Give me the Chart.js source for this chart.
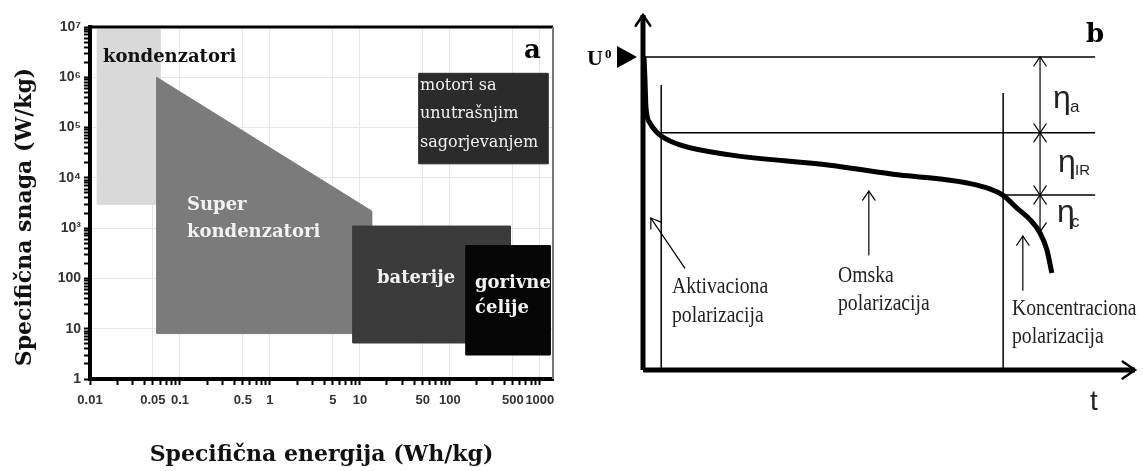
<!DOCTYPE html>
<html>
<head>
<meta charset="utf-8">
<script src="https://cdn.jsdelivr.net/npm/chart.js@4.4.1/dist/chart.umd.min.js"></script>
<style>
  html, body { margin: 0; padding: 0; background: #fff; }
  #wrap { position: relative; width: 1143px; height: 471px; overflow: hidden; }
  #boxA { position: absolute; left: 0; top: 0; width: 570px; height: 471px; }
  #boxB { position: absolute; left: 570px; top: 0; width: 573px; height: 471px; }
</style>
</head>
<body>
<div id="wrap">
  <div id="boxA"><canvas id="chartA"></canvas></div>
  <div id="boxB"><canvas id="chartB"></canvas></div>
</div>
<script>
// ---------- panel a: specific power vs specific energy (log-log) ----------
// region corners: energy in Wh/kg, power in W/kg
const kondEnergy = [0.012, 0.012, 0.06, 0.06];
const kondPower = [3000, 9e6, 9e6, 3000];
const superEnergy = [0.055, 0.055, 13.5, 13.5];
const superPower = [8, 1e6, 2200, 8];
const batEnergy = [8.3, 8.3, 470, 470];
const batPower = [5.2, 1100, 1100, 5.2];
const fuelEnergy = [150, 150, 1300, 1300];
const fuelPower = [3, 450, 450, 3];
const iceEnergy = [45, 45, 1230, 1230];
const icePower = [19000, 1.2e6, 1.2e6, 19000];

const energyTickLabels = ['0.01', '0.05', '0.1', '0.5', '1', '5', '10', '50', '100', '500', '1000'];
const powerTickValues = [1, 10, 100, 1e3, 1e4, 1e5, 1e6, 1e7];
const powerTickLabels = ['1', '10', '100', '10³', '10⁴', '10⁵', '10⁶', '10⁷'];

// ---------- panel b: cell voltage over time (arbitrary units) ----------
const curveTime = [0.2, 0.4, 0.6, 1.4, 2.6, 3.7, 7.5, 17.7, 38.0, 52.2, 60.4, 66.5, 70.5, 73.2, 76.0, 78.7, 80.7, 82.1, 83.1];
const curveVoltage = [88.2, 81.7, 74.1, 69.6, 67.3, 65.9, 63.4, 60.6, 57.7, 54.9, 53.8, 52.5, 51.0, 49.2, 45.6, 42.3, 38.6, 33.8, 27.3];
const levelVoltage = [88.2, 66.8, 49.3];     // U0, after activation, after ohmic
const levelStart = [0, 3.7, 73.2];
const levelEnd = 91.9;
const zoneTime = [3.7, 73.2];                 // activation / concentration borders
const zoneTop = [80.3, 78.0];
const dimTime = 80.7;
const dimBottom = 38.9;

function logTicks(lo, hi) {
  const t = [];
  for (let e = lo; e < hi; e++) {
    for (let m = 1; m < 10; m++) t.push(+(m * Math.pow(10, e)).toPrecision(3));
  }
  t.push(Math.pow(10, hi));
  return t;
}
const energyTicks = logTicks(-2, 3);
const powerTicks = logTicks(0, 7);

function energyLabel(v) {
  const l = energyTickLabels.find(s => Math.abs(Number(s) - v) / v < 1e-6);
  return l || '';
}
function powerLabel(v) {
  const i = powerTickValues.findIndex(p => Math.abs(p - v) / v < 1e-6);
  return i >= 0 ? powerTickLabels[i] : '';
}

function region(xs, ys, color, order) {
  const pts = xs.map((x, i) => ({ x: x, y: ys[i] }));
  pts.push(pts[0]);
  return {
    data: pts, fill: 'shape', backgroundColor: color, borderColor: color,
    borderWidth: 1, pointRadius: 0, tension: 0, order: order
  };
}

const panelAText = {
  id: 'panelAText',
  afterDraw(chart) {
    const { ctx, chartArea: a } = chart;
    ctx.save();
    // frame
    ctx.strokeStyle = '#000';
    ctx.lineWidth = 3;
    ctx.beginPath(); ctx.moveTo(a.left, a.top); ctx.lineTo(a.right, a.top); ctx.stroke();
    ctx.strokeStyle = '#777';
    ctx.lineWidth = 2;
    ctx.beginPath(); ctx.moveTo(a.right, a.top); ctx.lineTo(a.right, a.bottom); ctx.stroke();

    // y title
    ctx.fillStyle = '#111';
    ctx.font = 'bold 22px "DejaVu Serif"';
    ctx.textAlign = 'center';
    ctx.textBaseline = 'middle';
    ctx.translate(25, (a.top + a.bottom) / 2 + 14);
    ctx.rotate(-Math.PI / 2);
    ctx.fillText('Specifična snaga (W/kg)', 0, 0);
    ctx.restore();

    ctx.save();
    ctx.textAlign = 'left';
    ctx.textBaseline = 'alphabetic';
    ctx.font = 'bold 18px "DejaVu Serif"';
    ctx.fillStyle = '#111';
    ctx.fillText('kondenzatori', 103, 62);
    ctx.fillStyle = '#f2f2f2';
    ctx.fillText('Super', 187, 210);
    ctx.fillText('kondenzatori', 187, 237);
    ctx.fillText('baterije', 377, 283);
    ctx.fillText('gorivne', 475, 288);
    ctx.fillText('ćelije', 475, 313);
    ctx.font = '16px "DejaVu Serif"';
    ctx.fillText('motori sa', 420, 90);
    ctx.fillText('unutrašnjim', 420, 118);
    ctx.fillText('sagorjevanjem', 420, 147);
    ctx.fillStyle = '#000';
    ctx.font = 'bold 26px "DejaVu Serif"';
    ctx.fillText('a', 524, 58);
    ctx.restore();
  }
};

new Chart(document.getElementById('chartA'), {
  type: 'line',
  data: {
    datasets: [
      region(kondEnergy, kondPower, '#d9d9d9', 5),
      region(superEnergy, superPower, '#7b7b7b', 4),
      region(batEnergy, batPower, '#3b3b3b', 3),
      region(fuelEnergy, fuelPower, '#050505', 2),
      region(iceEnergy, icePower, '#2b2b2b', 1)
    ]
  },
  options: {
    responsive: true,
    maintainAspectRatio: false,
    animation: false,
    layout: { padding: { left: 10, right: 17, top: 27, bottom: 0 } },
    plugins: { legend: { display: false }, tooltip: { enabled: false } },
    scales: {
      x: {
        type: 'logarithmic', min: 0.01, max: 1400,
        afterBuildTicks: s => { s.ticks = energyTicks.map(v => ({ value: v })); },
        afterFit: s => { s.height = 92; },
        ticks: {
          autoSkip: false, maxRotation: 0, padding: 8, color: '#333',
          font: { family: '"Liberation Sans"', size: 13, weight: 'bold' },
          callback: v => energyLabel(v)
        },
        grid: {
          color: c => (c.tick && energyLabel(c.tick.value) ? '#e6e6e6' : 'rgba(0,0,0,0)'),
          tickColor: '#000', tickLength: 6, tickWidth: 2
        },
        border: { color: '#000', width: 4 },
        title: {
          display: true, text: 'Specifična energija (Wh/kg)', color: '#111',
          font: { family: '"DejaVu Serif"', size: 22, weight: 'bold' },
          padding: { top: 0, bottom: 3 }
        }
      },
      y: {
        type: 'logarithmic', min: 1, max: 1e7,
        afterBuildTicks: s => { s.ticks = powerTicks.map(v => ({ value: v })); },
        afterFit: s => { s.width = 80; },
        ticks: {
          autoSkip: false, padding: 3, color: '#333',
          font: { family: '"Liberation Sans"', size: 14, weight: 'bold' },
          callback: v => powerLabel(v)
        },
        grid: {
          color: c => (c.tick && powerLabel(c.tick.value) ? '#e6e6e6' : 'rgba(0,0,0,0)'),
          tickColor: '#000', tickLength: 6, tickWidth: 2
        },
        border: { color: '#000', width: 4 }
      }
    }
  },
  plugins: [panelAText]
});

// ---------- panel b ----------
function seg(points, width) {
  return {
    data: points, borderColor: '#000', borderWidth: width, pointRadius: 0,
    fill: false, tension: 0, clip: false
  };
}

function head(ctx, x, y, ang, len, w) {
  // open arrow head, tip at (x,y), pointing toward angle ang
  const spread = 0.6;
  ctx.lineWidth = w;
  ctx.beginPath();
  ctx.moveTo(x - len * Math.cos(ang - spread), y - len * Math.sin(ang - spread));
  ctx.lineTo(x, y);
  ctx.lineTo(x - len * Math.cos(ang + spread), y - len * Math.sin(ang + spread));
  ctx.stroke();
}

function condensed(ctx, text, x, y) {
  ctx.save();
  ctx.translate(x, y);
  ctx.scale(0.82, 1);
  ctx.fillText(text, 0, 0);
  ctx.restore();
}

const noteFrom = [[8.5, 28.7], [45.9, 32.4], [77.2, 22.5]];
const noteTo = [[1.6, 42.8], [45.9, 50.4], [77.2, 37.7]];

const panelBText = {
  id: 'panelBText',
  afterDraw(chart) {
    const { ctx } = chart;
    const X = v => chart.scales.x.getPixelForValue(v);
    const Y = v => chart.scales.y.getPixelForValue(v);
    const up = -Math.PI / 2, down = Math.PI / 2;
    ctx.save();
    ctx.strokeStyle = '#000';
    ctx.lineCap = 'round';

    // axis arrows
    head(ctx, X(0), Y(100), up, 13, 2.5);
    head(ctx, X(100), Y(0), 0, 15, 2.5);

    // dimension arrows
    const dx = X(dimTime);
    head(ctx, dx, Y(levelVoltage[0]), up, 11, 1.2);
    head(ctx, dx, Y(levelVoltage[1]), down, 11, 1.2);
    head(ctx, dx, Y(levelVoltage[1]), up, 11, 1.2);
    head(ctx, dx, Y(levelVoltage[2]), down, 11, 1.2);
    head(ctx, dx, Y(levelVoltage[2]), up, 11, 1.2);
    head(ctx, dx, Y(dimBottom), down, 11, 1.2);

    // annotation arrows
    ctx.lineWidth = 1.2;
    noteFrom.forEach((f, i) => {
      const x1 = X(f[0]), y1 = Y(f[1]), x2 = X(noteTo[i][0]), y2 = Y(noteTo[i][1]);
      ctx.beginPath(); ctx.moveTo(x1, y1); ctx.lineTo(x2, y2); ctx.stroke();
      head(ctx, x2, y2, Math.atan2(y2 - y1, x2 - x1), 11, 1.2);
    });

    // U0 marker
    const yU = Y(levelVoltage[0]);
    const tip = X(0) - 6;
    ctx.fillStyle = '#000';
    ctx.beginPath();
    ctx.moveTo(tip, yU); ctx.lineTo(tip - 20, yU - 11); ctx.lineTo(tip - 20, yU + 11);
    ctx.closePath(); ctx.fill();

    ctx.textAlign = 'left';
    ctx.textBaseline = 'alphabetic';
    ctx.font = 'bold 22px "Liberation Serif"';
    ctx.fillText('U', 17, 65);
    ctx.font = 'bold 13px "Liberation Serif"';
    ctx.fillText('0', 35, 58);
    ctx.font = 'bold 26px "DejaVu Serif"';
    ctx.fillText('b', 516, 42);

    // overpotentials
    ctx.fillStyle = '#222';
    ctx.font = '32px "Liberation Sans"';
    ctx.fillText('η', 483, 108);
    ctx.fillText('η', 488, 172);
    ctx.fillText('η', 487, 222);
    ctx.font = '17px "Liberation Sans"';
    ctx.fillText('a', 500, 112);
    ctx.fillText('c', 501, 227);
    ctx.font = '15px "Liberation Sans"';
    ctx.fillText('IR', 505, 175);

    ctx.font = '28px "Liberation Sans"';
    ctx.fillText('t', 520, 410);

    ctx.font = '24px "Liberation Serif"';
    condensed(ctx, 'Aktivaciona', 102, 293);
    condensed(ctx, 'polarizacija', 102, 322);
    condensed(ctx, 'Omska', 268, 282);
    condensed(ctx, 'polarizacija', 268, 310);
    condensed(ctx, 'Koncentraciona', 442, 315);
    condensed(ctx, 'polarizacija', 442, 343);
    ctx.restore();
  }
};

const bSets = [
  seg([{ x: 0, y: 0 }, { x: 0, y: 100 }], 5),
  seg([{ x: 0, y: 0 }, { x: 100, y: 0 }], 5)
];
levelVoltage.forEach((u, i) => bSets.push(seg([{ x: levelStart[i], y: u }, { x: levelEnd, y: u }], 1.5)));
zoneTime.forEach((t, i) => bSets.push(seg([{ x: t, y: 0 }, { x: t, y: zoneTop[i] }], 1.5)));
bSets.push(seg([{ x: dimTime, y: levelVoltage[0] }, { x: dimTime, y: dimBottom }], 1.2));
bSets.push(Object.assign(seg(curveTime.map((t, i) => ({ x: t, y: curveVoltage[i] })), 5), {
  cubicInterpolationMode: 'monotone'
}));

new Chart(document.getElementById('chartB'), {
  type: 'line',
  data: { datasets: bSets },
  options: {
    responsive: true,
    maintainAspectRatio: false,
    animation: false,
    layout: { padding: { left: 73, right: 8, top: 15, bottom: 101 } },
    plugins: { legend: { display: false }, tooltip: { enabled: false } },
    scales: {
      x: { type: 'linear', min: 0, max: 100, display: false },
      y: { type: 'linear', min: 0, max: 100, display: false }
    }
  },
  plugins: [panelBText]
});
</script>
</body>
</html>
